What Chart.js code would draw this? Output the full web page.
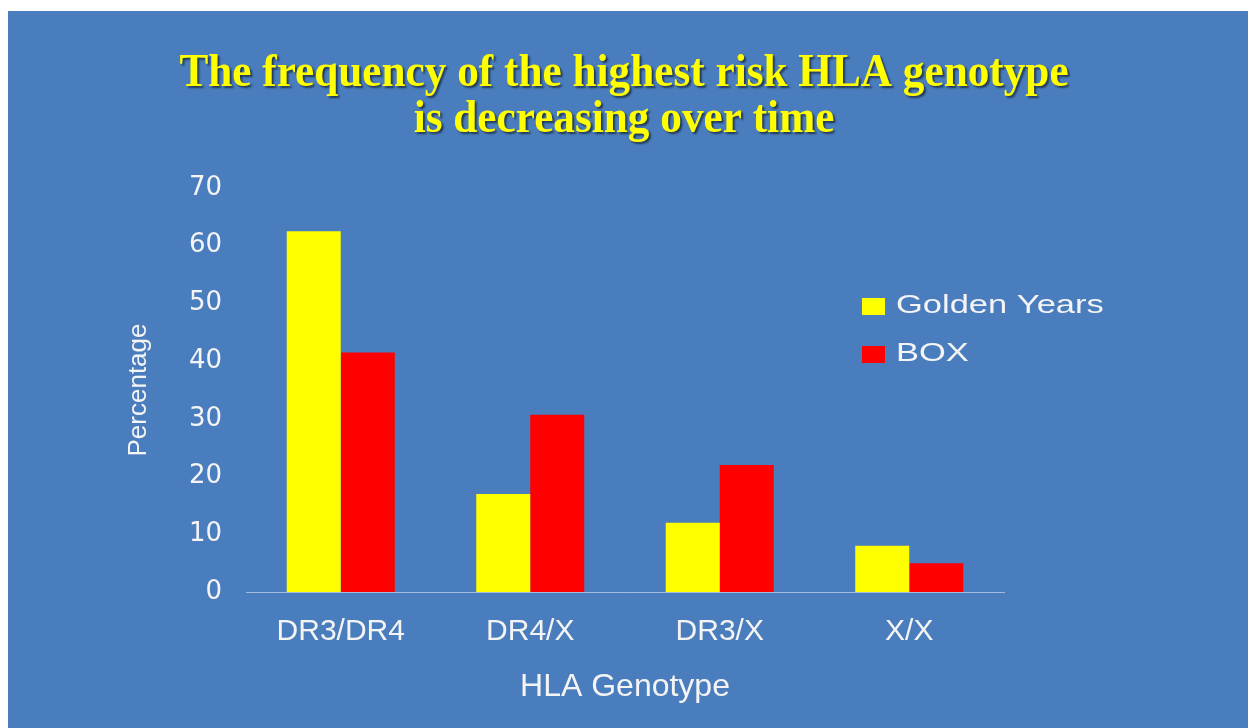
<!DOCTYPE html>
<html>
<head>
<meta charset="utf-8">
<script src="https://cdn.jsdelivr.net/npm/chart.js@4"></script>
<style>
  html, body { margin: 0; padding: 0; background: #fff; }
  canvas { display: block; }
</style>
</head>
<body>
<canvas id="hlaChart" width="1248" height="728"></canvas>
<script>
const categories = ['DR3/DR4', 'DR4/X', 'DR3/X', 'X/X'];
const goldenYears = [62.5, 17, 12, 8];
const boxStudy = [41.5, 30.7, 22, 5];
const titleLines = ['The frequency of the highest risk HLA genotype', 'is decreasing over time'];
const yMax = 70;
const yStep = 10;

const slideBackground = {
  id: 'slideBackground',
  beforeDraw(chart) {
    const c = chart.ctx;
    c.save();
    c.fillStyle = '#fff';
    c.fillRect(0, 0, chart.width, chart.height);
    c.fillStyle = '#4a7dbd';
    c.fillRect(8, 11, chart.width - 8, chart.height - 11);
    c.restore();
  },
};

// slide title, a bit narrower than the stock serif
const slideTitle = {
  id: 'slideTitle',
  afterDraw(chart) {
    const c = chart.ctx;
    c.save();
    c.translate(624, 0);
    c.scale(0.94, 1);
    c.font = "bold 46px 'Liberation Serif', serif";
    c.textAlign = 'center';
    c.textBaseline = 'middle';
    c.shadowColor = 'rgba(0,0,0,0.55)';
    c.shadowOffsetX = 2;
    c.shadowOffsetY = 2;
    c.shadowBlur = 2;
    c.fillStyle = '#ffff00';
    titleLines.forEach((line, i) => c.fillText(line, 0, 74 + i * 46));
    c.restore();
  },
};

// legend sits inside the plot, upper right
const floatLegend = {
  id: 'floatLegend',
  afterDraw(chart) {
    const c = chart.ctx;
    c.save();
    chart.data.datasets.forEach((ds, i) => {
      const y = 306 + i * 48;
      c.fillStyle = ds.backgroundColor;
      c.fillRect(862, y - 8, 23, 17);
      c.save();
      c.translate(896, y);
      c.scale(1.38, 1);
      c.font = "25px 'Liberation Sans', Arial, sans-serif";
      c.textBaseline = 'middle';
      c.fillStyle = '#f4f4f4';
      c.fillText(ds.label, 0, 0);
      c.restore();
    });
    c.restore();
  },
};

const ctx = document.getElementById('hlaChart').getContext('2d');
const hlaChart = new Chart(ctx, {
  type: 'bar',
  data: {
    labels: categories,
    datasets: [
      {
        label: 'Golden Years',
        data: goldenYears,
        backgroundColor: '#ffff00',
        borderWidth: 0,
      },
      {
        label: 'BOX',
        data: boxStudy,
        backgroundColor: '#ff0000',
        borderWidth: 0,
      },
    ],
  },
  options: {
    responsive: false,
    animation: false,
    categoryPercentage: 0.57,
    barPercentage: 1,
    layout: {
      padding: { left: 0, top: 188, right: 244, bottom: 0 },
    },
    scales: {
      x: {
        grid: { display: false, drawTicks: false },
        border: { display: true, color: 'rgba(220,230,245,0.6)', width: 1 },
        ticks: {
          padding: 22,
          color: '#f4f4f4',
          font: { family: "'Liberation Sans', Arial, sans-serif", size: 30 },
        },
        title: {
          display: true,
          text: 'HLA Genotype',
          color: '#f4f4f4',
          font: { family: "'Liberation Sans', Arial, sans-serif", size: 32 },
          padding: { top: 0, bottom: 22 },
        },
        afterFit(scale) {
          scale.height = 136;
        },
      },
      y: {
        min: 0,
        max: yMax,
        grid: { display: false, drawTicks: false },
        border: { display: false },
        ticks: {
          stepSize: yStep,
          padding: 24,
          color: '#f4f4f4',
          font: { family: "'DejaVu Sans', sans-serif", size: 26 },
        },
        title: {
          display: true,
          text: 'Percentage',
          color: '#f4f4f4',
          font: { family: "'Liberation Sans', Arial, sans-serif", size: 26 },
          padding: { top: 123, bottom: 0 },
        },
        afterFit(scale) {
          scale.width = 246;
        },
      },
    },
    plugins: {
      legend: { display: false },
      tooltip: { enabled: false },
    },
  },
  plugins: [slideBackground, slideTitle, floatLegend],
});
</script>
</body>
</html>
